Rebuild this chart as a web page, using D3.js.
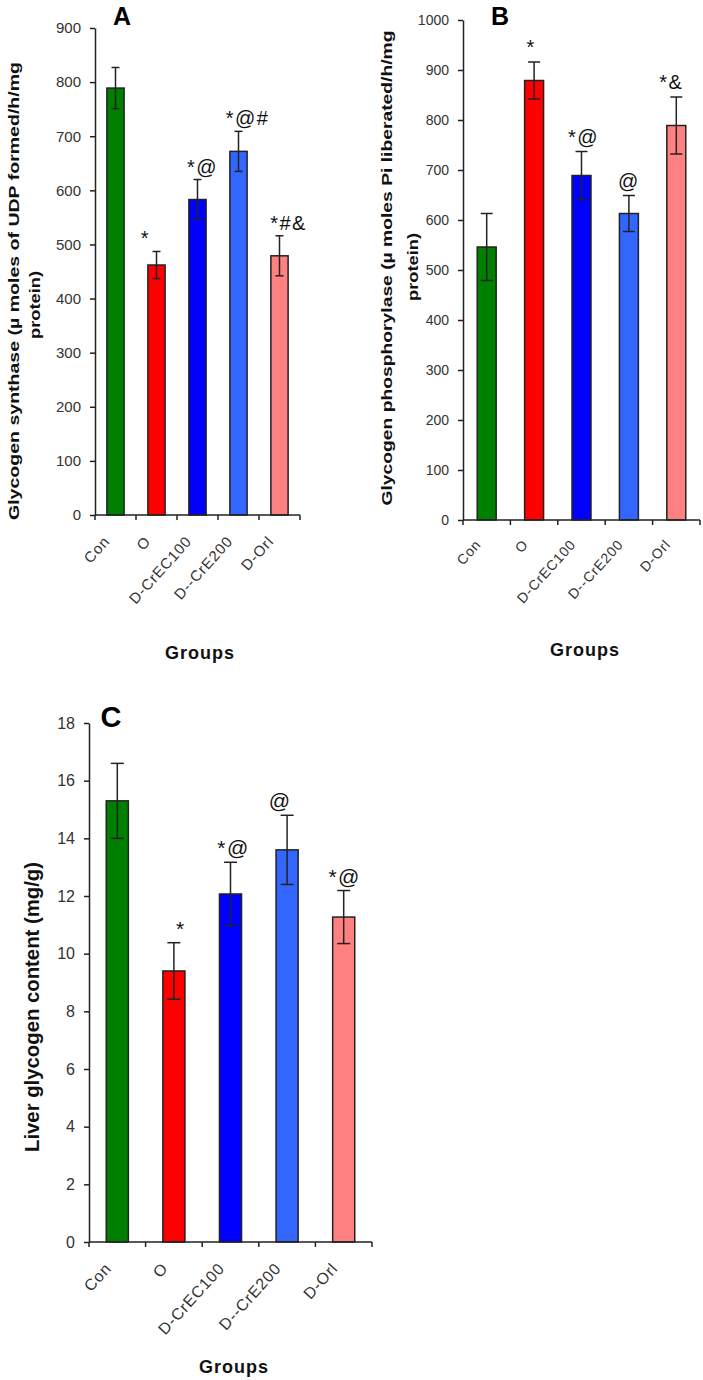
<!DOCTYPE html>
<html>
<head>
<meta charset="utf-8">
<script src="https://cdn.jsdelivr.net/npm/d3@7"></script>
<style>
  html, body { margin: 0; padding: 0; background: #fff; }
  svg { display: block; font-family: Arial, "Liberation Sans", sans-serif; }
</style>
</head>
<body>
<svg id="chart" width="703" height="1380"></svg>
<script>
// ---------- data ----------
const groups = ["Con", "O", "D-CrEC100", "D--CrE200", "D-Orl"];
const barColors = ["#008000", "#ff0000", "#0000ff", "#3366ff", "#ff8080"];

const synthaseMean = [789, 462, 583, 672, 479];
const synthaseErr  = [38, 25, 37, 37, 37];
const synthaseSig  = ["", "*", "*@", "*@#", "*#&"];
const synthaseTicks = [0, 100, 200, 300, 400, 500, 600, 700, 800, 900];

const phosMean = [546, 879, 689, 613, 789];
const phosErr  = [67, 37, 48, 36, 57];
const phosSig  = ["", "*", "*@", "@", "*&"];
const phosTicks = [0, 100, 200, 300, 400, 500, 600, 700, 800, 900, 1000];

const glycMean = [15.3, 9.4, 12.07, 13.6, 11.27];
const glycErr  = [1.3, 0.98, 1.1, 1.2, 0.92];
const glycSig  = ["", "*", "*@", "@", "*@"];
const glycTicks = [0, 2, 4, 6, 8, 10, 12, 14, 16, 18];

// ---------- layout ----------
const panels = [
  {
    title: "A", mean: synthaseMean, err: synthaseErr, sig: synthaseSig, ticks: synthaseTicks,
    yMax: 900, x0: 95, x1: 300, y0: 515, y1: 28, barFrac: 0.42, cap: 8,
    tickFont: 15, xLabFont: 15, xLabDx: -5, xLabDy: 27,
    sigDx: [0, -11, 5, 9, 9], sigGap: 6, sigFont: 20,
    yLab: ["Glycogen synthase (\u00b5 moles of UDP formed/h/mg", "protein)"],
    yLabX: [19, 40], yLabY: [291, 305], yLabLen: [458, 68], yLabFont: 15,
    titleX: 122, titleY: 25, titleFont: 25,
    groupsX: 200, groupsY: 659
  },
  {
    title: "B", mean: phosMean, err: phosErr, sig: phosSig, ticks: phosTicks,
    yMax: 1000, x0: 463, x1: 700, y0: 520, y1: 20, barFrac: 0.40, cap: 12,
    tickFont: 14, xLabFont: 14, xLabDx: -5, xLabDy: 25,
    sigDx: [0, -3, 2, 0, -5], sigGap: 8, sigFont: 20,
    yLab: ["Glycogen phosphorylase (\u00b5 moles Pi liberated/h/mg", "protein)"],
    yLabX: [392, 418], yLabY: [268, 267], yLabLen: [475, 68], yLabFont: 15,
    titleX: 500, titleY: 25, titleFont: 25,
    groupsX: 585, groupsY: 656
  },
  {
    title: "C", mean: glycMean, err: glycErr, sig: glycSig, ticks: glycTicks,
    yMax: 18, x0: 89, x1: 372, y0: 1242, y1: 723, barFrac: 0.39, cap: 13,
    tickFont: 16, xLabFont: 16, xLabDx: -5, xLabDy: 27,
    sigDx: [0, 7, 3, -7, 1], sigGap: 7, sigFont: 21,
    yLab: ["Liver glycogen content (mg/g)"],
    yLabX: [39], yLabY: [1007], yLabLen: [290], yLabFont: 20,
    titleX: 111, titleY: 727, titleFont: 29,
    groupsX: 234, groupsY: 1373
  }
];

const svg = d3.select("#chart");
const ink = "#222";

panels.forEach(p => {
  const g = svg.append("g");
  const x = d3.scaleBand().domain(groups).range([p.x0, p.x1]).padding(0);
  const y = d3.scaleLinear().domain([0, p.yMax]).range([p.y0, p.y1]);
  const bw = x.bandwidth() * p.barFrac;
  const cx = d => x(d) + x.bandwidth() / 2;

  // bars
  g.selectAll("rect.bar").data(groups).join("rect")
    .attr("class", "bar")
    .attr("x", d => cx(d) - bw / 2)
    .attr("y", (d, i) => y(p.mean[i]))
    .attr("width", bw)
    .attr("height", (d, i) => y(0) - y(p.mean[i]))
    .attr("fill", (d, i) => barColors[i])
    .attr("stroke", ink).attr("stroke-width", 1.5);

  // error bars
  const eb = g.selectAll("g.eb").data(groups).join("g").attr("class", "eb")
    .attr("stroke", ink).attr("stroke-width", 1.5);
  eb.append("line")
    .attr("x1", cx).attr("x2", cx)
    .attr("y1", (d, i) => y(p.mean[i] + p.err[i])).attr("y2", (d, i) => y(p.mean[i] - p.err[i]));
  eb.append("line")
    .attr("x1", d => cx(d) - p.cap / 2).attr("x2", d => cx(d) + p.cap / 2)
    .attr("y1", (d, i) => y(p.mean[i] + p.err[i])).attr("y2", (d, i) => y(p.mean[i] + p.err[i]));
  eb.append("line")
    .attr("x1", d => cx(d) - p.cap / 2).attr("x2", d => cx(d) + p.cap / 2)
    .attr("y1", (d, i) => y(p.mean[i] - p.err[i])).attr("y2", (d, i) => y(p.mean[i] - p.err[i]));

  // significance marks
  g.selectAll("text.sig").data(groups).join("text")
    .attr("class", "sig")
    .attr("x", (d, i) => cx(d) + p.sigDx[i])
    .attr("y", (d, i) => y(p.mean[i] + p.err[i]) - p.sigGap)
    .attr("text-anchor", "middle")
    .attr("font-size", p.sigFont)
    .attr("letter-spacing", 1.5)
    .attr("fill", "#111")
    .text((d, i) => p.sig[i]);

  // y axis
  const yAxis = g.append("g").attr("transform", `translate(${p.x0},0)`)
    .call(d3.axisLeft(y).tickValues(p.ticks).tickFormat(d3.format("d"))
      .tickSize(5).tickPadding(9).tickSizeOuter(0));
  yAxis.select(".domain").attr("stroke", ink).attr("stroke-width", 1.5);
  yAxis.selectAll(".tick line").attr("stroke", ink).attr("stroke-width", 1.5);
  yAxis.selectAll(".tick text").attr("font-size", p.tickFont).attr("fill", "#333")
    .attr("font-family", "Arial, 'Liberation Sans', sans-serif");

  // x axis: line with ticks at band boundaries
  g.append("line").attr("x1", p.x0).attr("x2", p.x1).attr("y1", p.y0).attr("y2", p.y0)
    .attr("stroke", ink).attr("stroke-width", 1.5);
  const bounds = groups.map(d => x(d)).concat([p.x1]);
  g.selectAll("line.xt").data(bounds).join("line").attr("class", "xt")
    .attr("x1", d => d).attr("x2", d => d).attr("y1", p.y0).attr("y2", p.y0 + 5)
    .attr("stroke", ink).attr("stroke-width", 1.5);

  // x labels rotated
  g.selectAll("text.xl").data(groups).join("text").attr("class", "xl")
    .attr("transform", d => `translate(${cx(d) + p.xLabDx},${p.y0 + p.xLabDy}) rotate(-48)`)
    .attr("text-anchor", "end")
    .attr("font-size", p.xLabFont)
    .attr("letter-spacing", 0.8)
    .attr("fill", "#333")
    .text(d => d);

  // y label(s)
  p.yLab.forEach((t, k) => {
    g.append("text")
      .attr("transform", `translate(${p.yLabX[k]},${p.yLabY[k]}) rotate(-90)`)
      .attr("text-anchor", "middle")
      .attr("font-size", p.yLabFont)
      .attr("font-weight", "bold")
      .attr("fill", "#111")
      .attr("textLength", p.yLabLen[k])
      .attr("lengthAdjust", "spacingAndGlyphs")
      .text(t);
  });

  // title
  g.append("text").attr("x", p.titleX).attr("y", p.titleY)
    .attr("text-anchor", "middle").attr("font-size", p.titleFont).attr("font-weight", "bold")
    .attr("fill", "#000").text(p.title);

  // Groups
  g.append("text").attr("x", p.groupsX).attr("y", p.groupsY)
    .attr("text-anchor", "middle").attr("font-size", 18).attr("font-weight", "bold")
    .attr("letter-spacing", 1).attr("fill", "#111").text("Groups");
});
</script>
</body>
</html>
